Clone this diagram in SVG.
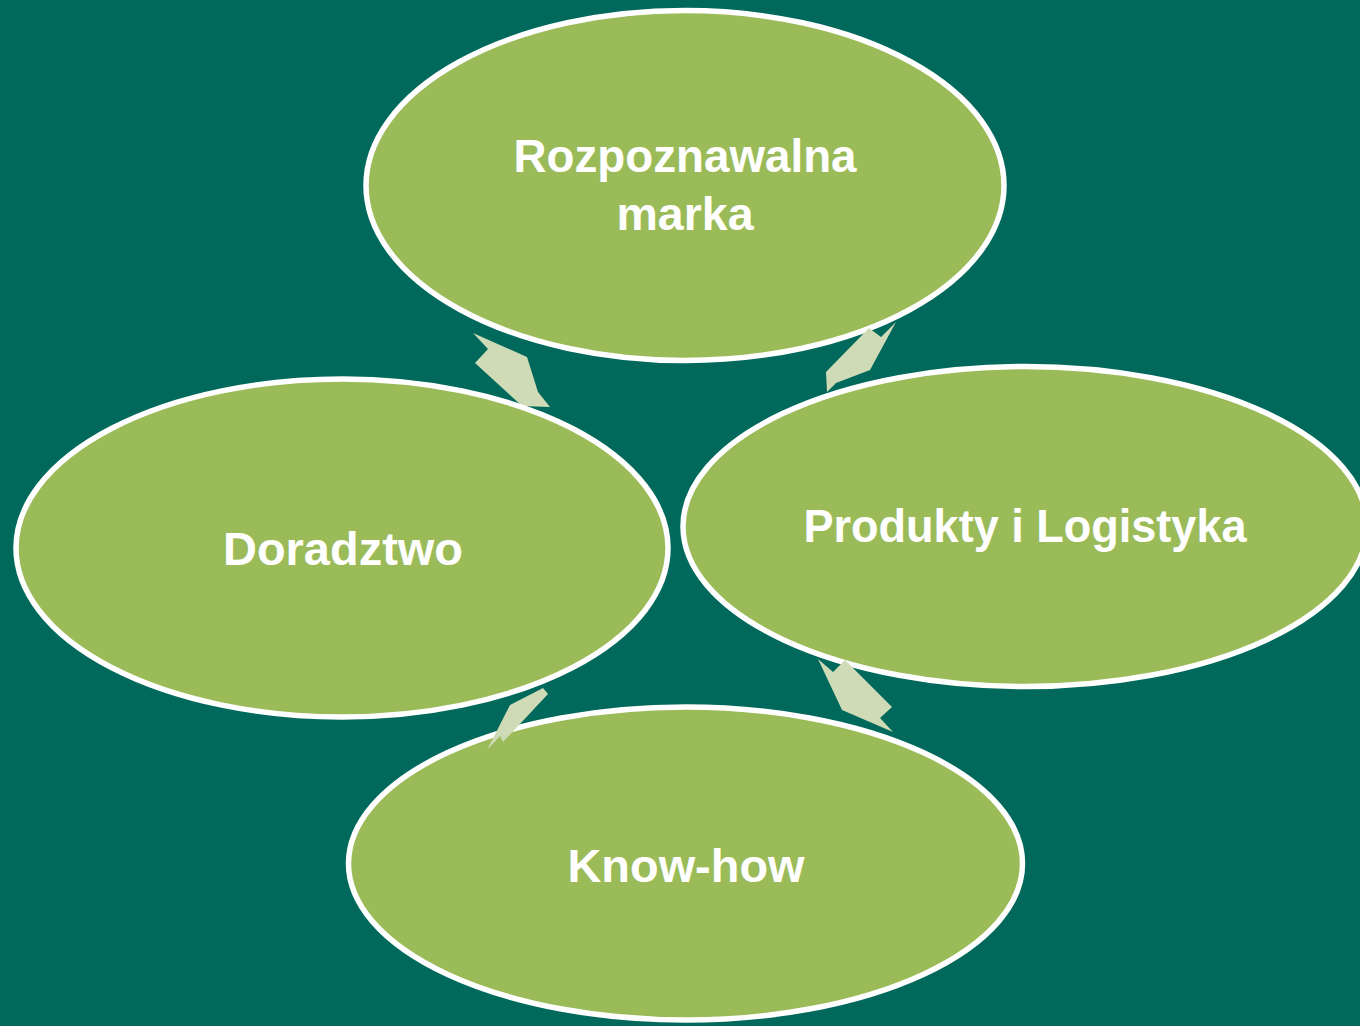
<svg xmlns="http://www.w3.org/2000/svg" width="1360" height="1026" viewBox="0 0 1360 1026">
  <style>
    .node { fill: #9BBB59; stroke: #FFFFFF; stroke-width: 5.5; }
    .arrow { fill: #CEDBB6; stroke: none; }
    .label { font-family: "Liberation Sans", Arial, sans-serif; font-weight: bold; font-size: 46px; fill: #FFFFFF; text-anchor: middle; }
  </style>
  <rect x="0" y="0" width="1360" height="1026" fill="#00695B"/>

  <g id="node-rozpoznawalna">
    <ellipse class="node" cx="685" cy="185.5" rx="319" ry="175"/>
    <text class="label" x="685" y="172" textLength="343" lengthAdjust="spacingAndGlyphs">Rozpoznawalna</text>
    <text class="label" x="685" y="230" textLength="137" lengthAdjust="spacingAndGlyphs">marka</text>
  </g>

  <g id="node-produkty">
    <ellipse class="node" cx="1025" cy="526.5" rx="342" ry="160"/>
    <text class="label" x="1025" y="542" textLength="443" lengthAdjust="spacingAndGlyphs">Produkty i Logistyka</text>
  </g>

  <g id="node-knowhow">
    <ellipse class="node" cx="685.5" cy="863.5" rx="337" ry="156.5"/>
    <text class="label" x="686" y="882" textLength="237" lengthAdjust="spacingAndGlyphs">Know-how</text>
  </g>

  <g id="connectors">
    <polygon class="arrow" points="473,333 527,357 538,392 550,407 522,406 475,363 488,349"/>
    <polygon class="arrow" points="896,322 870,370 836,383 827,392 826,372 869,328 881,337"/>
    <polygon class="arrow" points="818,659 833,672 845,660 892,707 880,718 893,732 842,710"/>
    <polygon class="arrow" points="510,705 543,688 548,694 503,742 500,736 487,750"/>
  </g>

  <g id="node-doradztwo">
    <ellipse class="node" cx="342" cy="548" rx="326" ry="169"/>
    <text class="label" x="343" y="565" textLength="240" lengthAdjust="spacingAndGlyphs">Doradztwo</text>
  </g>
</svg>
